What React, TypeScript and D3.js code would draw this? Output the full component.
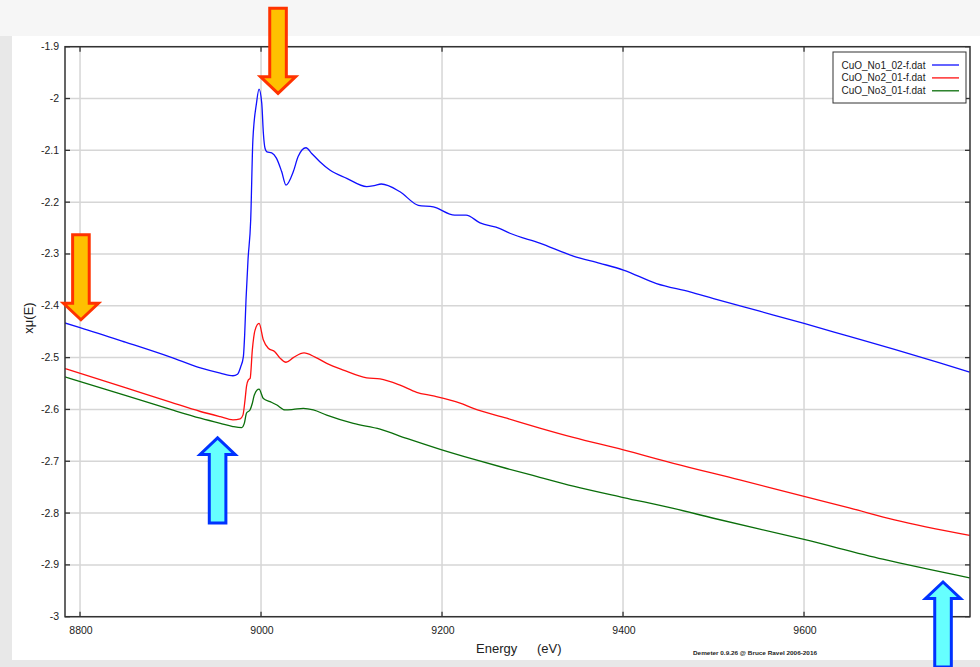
import React from 'react';
import * as d3 from 'd3';

// CuO XANES
const blueE = [8783, 8800, 8850, 8900, 8933, 8955, 8969, 8974, 8977.5, 8980.5, 8982, 8983.4, 8985.6, 8988.6, 8991, 8995, 8997.8, 9000.8, 9002.6, 9004.4, 9006.5, 9011.8, 9017, 9022.8, 9027.6, 9035.7, 9041, 9049.7, 9056, 9065, 9076, 9094.7, 9116.8, 9125, 9133, 9153.6, 9173.8, 9190.4, 9214, 9226.5, 9242, 9264, 9275, 9308, 9345, 9374.6, 9400.4, 9437, 9474, 9500, 9550, 9600, 9650, 9700, 9750, 9783];
const blueMu = [-2.433, -2.442, -2.470, -2.499, -2.520, -2.530, -2.535, -2.532, -2.518, -2.498, -2.453, -2.389, -2.312, -2.234, -2.080, -2.009, -1.982, -2.009, -2.067, -2.096, -2.103, -2.105, -2.115, -2.141, -2.167, -2.141, -2.112, -2.095, -2.106, -2.122, -2.138, -2.154, -2.170, -2.168, -2.165, -2.180, -2.206, -2.209, -2.225, -2.225, -2.240, -2.251, -2.260, -2.279, -2.304, -2.318, -2.331, -2.357, -2.373, -2.386, -2.410, -2.434, -2.459, -2.484, -2.510, -2.528];

const redE = [8783, 8850, 8900, 8933, 8955, 8969, 8977, 8980, 8982.3, 8984, 8986, 8988, 8990.4, 8993.4, 8997.8, 9002.6, 9008, 9015.5, 9021, 9027.6, 9035.7, 9047.5, 9059.7, 9072.6, 9091, 9116.8, 9131.5, 9153.6, 9172, 9190.4, 9220, 9234.6, 9271.5, 9308, 9345, 9400.4, 9455.6, 9529, 9600, 9650, 9700, 9783];
const redMu = [-2.521, -2.558, -2.586, -2.604, -2.614, -2.620, -2.618, -2.611, -2.582, -2.555, -2.543, -2.540, -2.485, -2.447, -2.434, -2.466, -2.482, -2.489, -2.501, -2.509, -2.500, -2.491, -2.499, -2.511, -2.524, -2.539, -2.541, -2.553, -2.567, -2.574, -2.588, -2.598, -2.617, -2.636, -2.654, -2.678, -2.704, -2.736, -2.768, -2.790, -2.813, -2.843];

const greenE = [8783, 8850, 8900, 8933, 8955, 8969, 8978.6, 8981.5, 8984, 8987.8, 8990.4, 8992.6, 8997.8, 9002.6, 9010, 9017, 9026.5, 9035.7, 9046.7, 9057.8, 9072.6, 9102, 9131.5, 9161, 9198, 9234.6, 9271.5, 9308, 9345, 9400.4, 9455.6, 9500, 9600, 9687, 9783];
const greenMu = [-2.537, -2.573, -2.600, -2.617, -2.627, -2.633, -2.635, -2.627, -2.607, -2.601, -2.588, -2.572, -2.561, -2.579, -2.585, -2.591, -2.601, -2.600, -2.598, -2.601, -2.611, -2.627, -2.638, -2.656, -2.677, -2.696, -2.714, -2.731, -2.748, -2.770, -2.791, -2.810, -2.851, -2.889, -2.925];

const seriesNames = ['CuO_No1_02-f.dat', 'CuO_No2_01-f.dat', 'CuO_No3_01-f.dat'];
const seriesColors = ['#1010ff', '#ff1010', '#0a6e0a'];

const xTicks = [8800, 9000, 9200, 9400, 9600];
const yTicks = [-3, -2.9, -2.8, -2.7, -2.6, -2.5, -2.4, -2.3, -2.2, -2.1, -2, -1.9];

// annotation arrows: tip position in data coords, direction
const arrowE = [9018.8, 8801, 8952, 9753.6];
const arrowMu = [-1.990, -2.427, -2.655, -2.933];
const arrowDir = ['down', 'down', 'up', 'up'];

const W = 980;
const H = 667;
const plot = { left: 65, top: 46.7, right: 970, bottom: 616.7 };
const font = '"Liberation Sans", Arial, sans-serif';

const Arrow = ({ x, y, dir }: { x: number; y: number; dir: string }) => {
    const len = 85, headH = 16.5, headW = 17.5, shaftW = 8.3;
    const s = dir === 'down' ? -1 : 1; // tail direction
    const pts = [
        [x, y],
        [x + headW, y + s * headH],
        [x + shaftW, y + s * headH],
        [x + shaftW, y + s * len],
        [x - shaftW, y + s * len],
        [x - shaftW, y + s * headH],
        [x - headW, y + s * headH],
    ];
    const down = dir === 'down';
    return (
        <path
            d={'M' + pts.map(p => p.join(',')).join('L') + 'Z'}
            fill={down ? '#ffc000' : '#66ffff'}
            stroke={down ? '#ff3300' : '#0033ff'}
            strokeWidth={3}
            strokeLinejoin="miter"
        />
    );
};

export default function App() {
    const x = d3.scaleLinear().domain([8783.4, 9783.4]).range([plot.left, plot.right]);
    const y = d3.scaleLinear().domain([-3, -1.9]).range([plot.bottom, plot.top]);

    const line = d3.line<[number, number]>()
        .x(d => x(d[0]))
        .y(d => y(d[1]))
        .curve(d3.curveMonotoneX);

    const series = [
        d3.zip(blueE, blueMu) as [number, number][],
        d3.zip(redE, redMu) as [number, number][],
        d3.zip(greenE, greenMu) as [number, number][],
    ];

    // plain hyphen minus, like the original plot
    const fmtY = (t: number) => String(Number(t.toFixed(1)));

    return (
        <svg width={W} height={H} style={{ position: 'absolute', left: 0, top: 0, background: '#e8e8e8' }}>
            <rect x={0} y={0} width={W} height={36} fill="#f6f6f6" />
            <rect x={12} y={36} width={W - 12} height={624} fill="#ffffff" />

            <clipPath id="plotClip">
                <rect x={plot.left} y={plot.top} width={plot.right - plot.left} height={plot.bottom - plot.top} />
            </clipPath>

            {/* grid */}
            <g stroke="#d6d6d6" strokeWidth={1.5}>
                {xTicks.map(t => (
                    <line key={'gx' + t} x1={x(t)} x2={x(t)} y1={plot.top} y2={plot.bottom} />
                ))}
                {yTicks.map(t => (
                    <line key={'gy' + t} x1={plot.left} x2={plot.right} y1={y(t)} y2={y(t)} />
                ))}
            </g>

            {/* curves */}
            <g clipPath="url(#plotClip)" fill="none" strokeWidth={1.3}>
                {series.map((s, i) => (
                    <path key={seriesNames[i]} d={line(s) || ''} stroke={seriesColors[i]} />
                ))}
            </g>

            {/* frame + inward ticks */}
            <rect x={plot.left} y={plot.top} width={plot.right - plot.left} height={plot.bottom - plot.top}
                fill="none" stroke="#333" strokeWidth={1.5} />
            <g stroke="#333" strokeWidth={1.3}>
                {xTicks.map(t => (
                    <g key={'tx' + t}>
                        <line x1={x(t)} x2={x(t)} y1={plot.bottom} y2={plot.bottom - 5} />
                        <line x1={x(t)} x2={x(t)} y1={plot.top} y2={plot.top + 5} />
                    </g>
                ))}
                {yTicks.map(t => (
                    <g key={'ty' + t}>
                        <line x1={plot.left} x2={plot.left + 5} y1={y(t)} y2={y(t)} />
                        <line x1={plot.right} x2={plot.right - 5} y1={y(t)} y2={y(t)} />
                    </g>
                ))}
            </g>

            {/* tick labels */}
            <g fontFamily={font} fontSize={10.5} fill="#222">
                {xTicks.map(t => (
                    <text key={'lx' + t} x={x(t) + 1} y={plot.bottom + 17} textAnchor="middle">{t}</text>
                ))}
                {yTicks.map(t => (
                    <text key={'ly' + t} x={59} y={y(t) + 3.5} textAnchor="end">{fmtY(t)}</text>
                ))}
            </g>

            {/* axis titles */}
            <text x={476} y={653} fontFamily={font} fontSize={13} fill="#222">Energy</text>
            <text x={537} y={653} fontFamily={font} fontSize={13} fill="#222">(eV)</text>
            <text transform="translate(33,318) rotate(-90)" textAnchor="middle" fontFamily={font} fontSize={13} fill="#222">xμ(E)</text>
            <text x={693} y={655} fontFamily={font} fontSize={6.2} fontWeight="bold" fill="#222"
                textLength={124} lengthAdjust="spacingAndGlyphs">Demeter 0.9.26 @ Bruce Ravel 2006-2016</text>

            {/* legend */}
            <rect x={833} y={52} width={133} height={51} fill="#fff" stroke="#333" strokeWidth={1} />
            {seriesNames.map((n, i) => (
                <g key={'leg' + n} transform={`translate(0,${65 + i * 12.9})`}>
                    <text x={841.5} y={3.5} fontFamily={font} fontSize={10} fill="#222">{n}</text>
                    <line x1={932} x2={959} y1={0} y2={0} stroke={seriesColors[i]} strokeWidth={1.3} />
                </g>
            ))}

            {/* annotation arrows */}
            {arrowE.map((e, i) => (
                <Arrow key={'arr' + i} x={x(e)} y={y(arrowMu[i])} dir={arrowDir[i]} />
            ))}
        </svg>
    );
}
